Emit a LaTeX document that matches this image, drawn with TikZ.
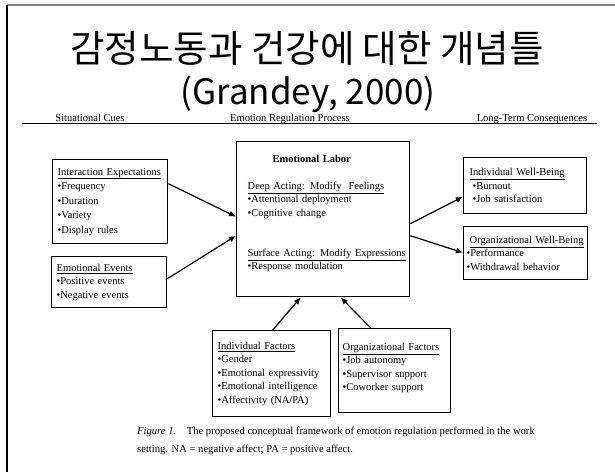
\documentclass[tikz,border=0pt]{standalone}
\usepackage{fontspec}
\setmainfont{Liberation Serif}
\newfontfamily\kofont{Noto Sans CJK KR}
\usetikzlibrary{arrows.meta}

\begin{document}
\begin{tikzpicture}[x=1pt, y=-1pt,
		box/.style={draw=black, line width=1.4pt, anchor=north west, align=left, inner ysep=0pt, font=\fontsize{10.5}{13.4}\selectfont},
		link/.style={-{Latex[length=7pt,width=6pt]}, line width=1.2pt},
		head/.style={anchor=base, font=\fontsize{10.5}{12}\selectfont}]
	\useasboundingbox (0,0) rectangle (615,472);

	% page frame
	\draw[gray, line width=2pt] (7,4.5) -- (615,4.5);
	\draw[black, line width=2pt] (7,4.5) -- (7,472);

	% title
	\node[anchor=base, font=\kofont\fontsize{37.5}{44}\selectfont] (title) at (307,62) {감정노동과 건강에 대한 개념틀};
	\node[anchor=base, font=\kofont\fontsize{35}{42}\selectfont] (year) at (308,104) {(Grandey, 2000)};

	% column heads
	\draw[line width=0.8pt] (22,123.5) -- (597,123.5);
	\node[head] (cues) at (90,121) {Situational Cues};
	\node[head] (process) at (290,121) {Emotion Regulation Process};
	\node[head] (cons) at (532,121) {Long-Term Consequences};

	% boxes
	\node[box, inner xsep=5pt, text width=105pt, minimum height=84pt, font=\fontsize{10.5}{14.5}\selectfont] (ie) at (52,159) {\underline{Interaction Expectations}\\
		•Frequency\\•Duration\\•Variety\\•Display rules};
	\node[box, inner xsep=5pt, text width=105pt, minimum height=51pt] (ee) at (51,256) {\underline{Emotional Events}\\
		•Positive events\\•Negative events};
	\node[box, inner xsep=11pt, text width=151pt, minimum height=155pt] (el) at (236,141) {\hspace*{25pt}\textbf{Emotional Labor}\\[13.4pt]
		\underline{Deep Acting: Modify\ \ Feelings}\\
		•Attentional deployment\\•Cognitive change\\[26.8pt]
		\underline{Surface Acting: Modify Expressions}\\
		•Response modulation\\[0pt]\mbox{}};
	\node[box, inner xsep=6pt, text width=111pt, minimum height=56pt] (iwb) at (463,157) {\underline{Individual Well-Being}\\
		\hspace*{3pt}•Burnout\\\hspace*{3pt}•Job satisfaction};
	\node[box, inner xsep=3pt, text width=118pt, minimum height=53pt] (owb) at (463,226) {\hspace*{3pt}\underline{Organizational Well-Being}\\
		•Performance\\•Withdrawal behavior};
	\node[box, inner xsep=5pt, text width=108pt, minimum height=86pt] (if) at (212,330) {\underline{Individual Factors}\\
		•Gender\\•Emotional expressivity\\•Emotional intelligence\\•Affectivity (NA/PA)};
	\node[box, inner xsep=4pt, text width=104pt, minimum height=84pt] (of) at (338,328) {\underline{Organizational Factors}\\
		•Job autonomy\\•Supervisor support\\•Coworker support\\[-6pt]\mbox{}};

	% arrows
	\draw[link] ([yshift=18pt]ie.east) -- ([yshift=2.5pt]el.west);
	\draw[link] ([yshift=3.5pt]ee.east) -- ([yshift=-16.5pt]el.west);
	\draw[link] ([yshift=-4.5pt]el.east) -- ([yshift=-11pt]iwb.west);
	\draw[link] ([yshift=-16.5pt]el.east) -- ([yshift=0.5pt]owb.west);
	\draw[link] ([xshift=1pt]if.north) -- ([xshift=-22.5pt]el.south);
	\draw[link] ([xshift=-24pt]of.north) -- ([xshift=17.5pt]el.south);

	% caption (base is the last line)
	\node[anchor=base west, align=left, inner sep=0pt, font=\fontsize{10.6}{18}\selectfont] (caption) at (137,452) {\textit{Figure 1.}\quad The proposed conceptual framework of emotion regulation performed in the work\\
		setting. NA = negative affect; PA = positive affect.};
\end{tikzpicture}
\end{document}
